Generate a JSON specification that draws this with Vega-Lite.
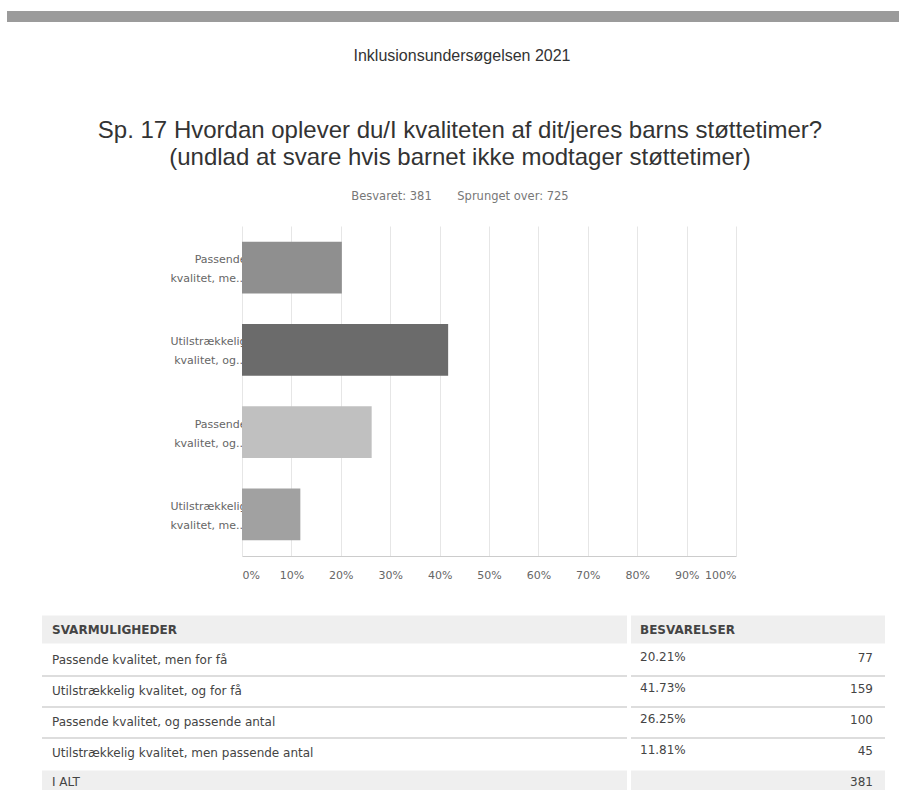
{
  "$schema": "https://vega.github.io/schema/vega-lite/v6.json",
  "background": "white",
  "padding": {"left": 7, "top": 10, "right": 0, "bottom": 0},
  "bounds": "flush",
  "spacing": 58,
  "config": {"view": {"stroke": null}, "font": "DejaVu Sans"},
  "datasets": {
    "svar": [
      {"svar": "Passende kvalitet, men for få", "andel": 0.2021, "antal": 77},
      {"svar": "Utilstrækkelig kvalitet, og for få", "andel": 0.4173, "antal": 159},
      {"svar": "Passende kvalitet, og passende antal", "andel": 0.2625, "antal": 100},
      {"svar": "Utilstrækkelig kvalitet, men passende antal", "andel": 0.1181, "antal": 45}
    ],
    "ramme": [
      {"svar": "SVARMULIGHEDER", "besvarelser": "BESVARELSER"},
      {"svar": "I ALT", "antal": 381}
    ]
  },
  "vconcat": [
    {
      "width": 892,
      "height": 11,
      "view": {"fill": "#9b9b9b", "stroke": null},
      "data": {"values": [{}]},
      "mark": {"type": "text", "text": ""},
      "encoding": {},
      "title": {"text": "Inklusionsundersøgelsen 2021", "orient": "bottom", "anchor": "middle", "offset": 26, "dx": 9, "font": "Liberation Sans", "fontSize": 16, "fontWeight": "normal", "color": "#333"}
    },
    {
      "width": 892,
      "height": 88,
      "data": {"values": [{}]},
      "mark": {"type": "text", "text": ""},
      "encoding": {}
    },
    {
      "width": 892,
      "height": 330,
      "data": {"name": "svar"},
      "title": {
        "text": ["Sp. 17 Hvordan oplever du/I kvaliteten af dit/jeres barns støttetimer?", "(undlad at svare hvis barnet ikke modtager støttetimer)"],
        "subtitle": "\u00a0\u00a0\u00a0\u00a0\u00a0\u00a0Besvaret: 381\u00a0\u00a0\u00a0\u00a0\u00a0\u00a0\u00a0Sprunget over: 725",
        "anchor": "middle", "dx": 7, "offset": 24,
        "font": "Liberation Sans", "fontSize": 24, "lineHeight": 27, "fontWeight": "normal", "color": "#333",
        "subtitleFont": "DejaVu Sans", "subtitleFontSize": 11.5, "subtitleColor": "#777", "subtitlePadding": 21
      },
      "mark": {"type": "bar"},
      "encoding": {
        "y": {
          "field": "svar", "type": "nominal", "sort": null,
          "scale": {"paddingInner": 0.368, "paddingOuter": 0.19},
          "axis": {
            "title": null, "offset": -235, "ticks": false, "domain": false, "labelPadding": -4,
            "labelExpr": "[slice(datum.label, 0, indexof(datum.label, ' ')), slice(datum.label, indexof(datum.label, ' ') + 1, indexof(datum.label, ' ') + 13) + '...']",
            "labelFont": "DejaVu Sans", "labelFontSize": 11, "labelColor": "#666", "labelLineHeight": 19, "labelOffset": -7.5, "labelLimit": 0
          }
        },
        "x": {
          "field": "andel", "type": "quantitative",
          "scale": {"domain": [0, 1], "range": [235, 729]},
          "axis": {
            "title": null, "format": ".0%", "values": [0, 0.1, 0.2, 0.3, 0.4, 0.5, 0.6, 0.7, 0.8, 0.9, 1],
            "grid": true, "gridColor": "#e6e6e6", "domainColor": "#cccccc", "ticks": false,
            "labelFlush": true, "labelPadding": 13, "labelFont": "DejaVu Sans", "labelFontSize": 11, "labelColor": "#666"
          }
        },
        "color": {
          "field": "svar", "type": "nominal", "sort": null,
          "scale": {"range": ["#8f8f8f", "#6b6b6b", "#c0c0c0", "#a1a1a1"]},
          "legend": null
        }
      }
    },
    {
      "width": 892,
      "height": 186,
      "encoding": {
        "y": {
          "field": "svar", "type": "nominal",
          "scale": {
            "domain": ["SVARMULIGHEDER", "Passende kvalitet, men for få", "Utilstrækkelig kvalitet, og for få", "Passende kvalitet, og passende antal", "Utilstrækkelig kvalitet, men passende antal", "I ALT"],
            "paddingInner": 0, "paddingOuter": 0
          },
          "axis": null
        }
      },
      "layer": [
        {
          "data": {"name": "ramme"},
          "mark": {"type": "bar", "color": "#efefef", "height": {"band": 0.9}},
          "encoding": {"x": {"value": 35}, "x2": {"value": 620}}
        },
        {
          "data": {"name": "ramme"},
          "mark": {"type": "bar", "color": "#efefef", "height": {"band": 0.9}},
          "encoding": {"x": {"value": 624}, "x2": {"value": 878}}
        },
        {
          "data": {"name": "svar"},
          "transform": [{"filter": "datum.svar !== 'Utilstrækkelig kvalitet, men passende antal'"}],
          "mark": {"type": "rule", "color": "#dddddd", "strokeWidth": 2},
          "encoding": {"y": {"field": "svar", "type": "nominal", "bandPosition": 1}, "x": {"value": 35}, "x2": {"value": 620}}
        },
        {
          "data": {"name": "svar"},
          "transform": [{"filter": "datum.svar !== 'Utilstrækkelig kvalitet, men passende antal'"}],
          "mark": {"type": "rule", "color": "#dddddd", "strokeWidth": 2},
          "encoding": {"y": {"field": "svar", "type": "nominal", "bandPosition": 1}, "x": {"value": 624}, "x2": {"value": 878}}
        },
        {
          "data": {"name": "svar"},
          "mark": {"type": "text", "align": "left", "baseline": "middle", "fontSize": 12, "color": "#444", "dy": -1},
          "encoding": {"text": {"field": "svar"}, "x": {"value": 45}}
        },
        {
          "data": {"name": "svar"},
          "mark": {"type": "text", "align": "left", "baseline": "middle", "fontSize": 12, "color": "#444", "dy": -4},
          "encoding": {"text": {"field": "andel", "format": ".2%"}, "x": {"value": 633}}
        },
        {
          "data": {"name": "svar"},
          "mark": {"type": "text", "align": "right", "baseline": "middle", "fontSize": 12, "color": "#444", "dy": -3},
          "encoding": {"text": {"field": "antal"}, "x": {"value": 866}}
        },
        {
          "data": {"name": "ramme"},
          "transform": [{"filter": "isValid(datum.besvarelser)"}],
          "mark": {"type": "text", "align": "left", "baseline": "middle", "fontSize": 12, "fontWeight": "bold", "color": "#444", "letterSpacing": 0.2},
          "encoding": {"text": {"field": "svar"}, "x": {"value": 45}}
        },
        {
          "data": {"name": "ramme"},
          "transform": [{"filter": "isValid(datum.besvarelser)"}],
          "mark": {"type": "text", "align": "left", "baseline": "middle", "fontSize": 12, "fontWeight": "bold", "color": "#444", "letterSpacing": 0.4},
          "encoding": {"text": {"field": "besvarelser"}, "x": {"value": 633}}
        },
        {
          "data": {"name": "ramme"},
          "transform": [{"filter": "isValid(datum.antal)"}],
          "mark": {"type": "text", "align": "left", "baseline": "middle", "fontSize": 12, "color": "#444", "dy": -3},
          "encoding": {"text": {"field": "svar"}, "x": {"value": 45}}
        },
        {
          "data": {"name": "ramme"},
          "transform": [{"filter": "isValid(datum.antal)"}],
          "mark": {"type": "text", "align": "right", "baseline": "middle", "fontSize": 12, "color": "#444", "dy": -3},
          "encoding": {"text": {"field": "antal"}, "x": {"value": 866}}
        }
      ]
    }
  ]
}
